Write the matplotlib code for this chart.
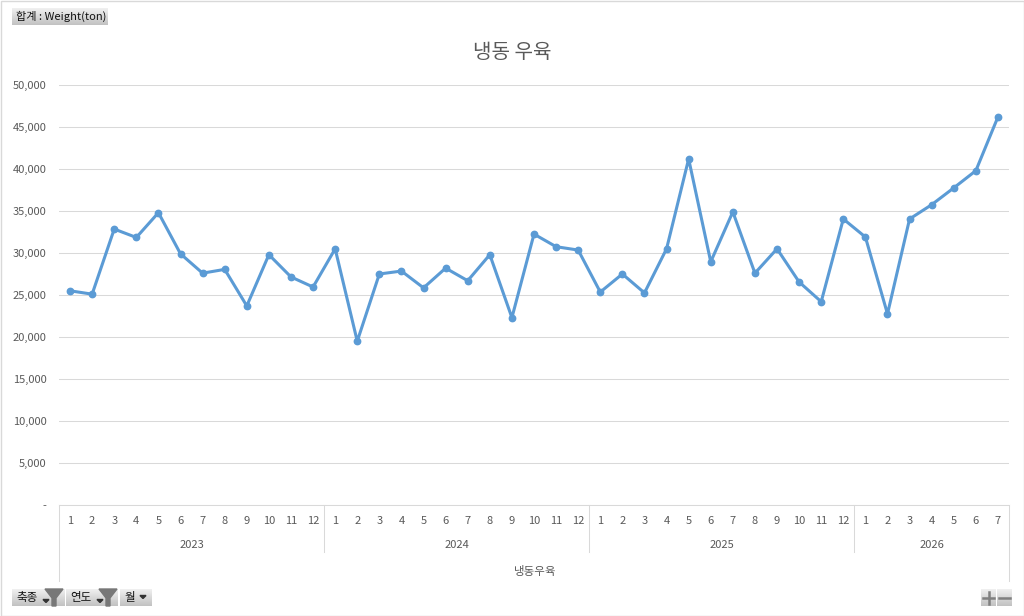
import numpy as np
import matplotlib
matplotlib.use('Agg')
import matplotlib.pyplot as plt
from matplotlib.patches import Polygon, Rectangle

plt.rcParams['font.family'] = ['Noto Sans CJK KR', 'DejaVu Sans']

# Chart data
years = ['2023', '2024', '2025', '2026']
months_per_year = [12, 12, 12, 7]
weight = [25500, 25100, 32850, 31850, 34800, 29900, 27600, 28050, 23700, 29800, 27150, 25950,
          30500, 19500, 27500, 27850, 25850, 28200, 26700, 29800, 22300, 32250, 30750, 30350,
          25350, 27500, 25250, 30500, 41200, 28950, 34900, 27600, 30500, 26550, 24200, 34050,
          31900, 22750, 34050, 35750, 37750, 39800, 46200]
y_ticks = [0, 5000, 10000, 15000, 20000, 25000, 30000, 35000, 40000, 45000, 50000]
title = '냉동 우육'
category = '냉동우육'

W, H = 1024, 616
GREY = '#595959'
LINE = '#d9d9d9'
BLUE = '#5b9bd5'

fig = plt.figure(figsize=(W / 100, H / 100), dpi=100, facecolor='white')

# main axes, placed by pixel position
left, right, top, bottom = 59, 1009, 85, 505
ax = fig.add_axes([left / W, 1 - bottom / H, (right - left) / W, (bottom - top) / H])

x = np.arange(len(weight))
ax.plot(x, weight, color=BLUE, lw=2.2, marker='o', ms=4.6, solid_joinstyle='round', clip_on=False, zorder=3)
ax.set_xlim(-0.5, len(weight) - 0.5)
ax.set_ylim(0, 50000)
ax.set_yticks(y_ticks)
ax.set_yticklabels(['-' if v == 0 else f'{v:,}' for v in y_ticks], fontsize=8, color=GREY)
ax.yaxis.grid(True, color=LINE, lw=0.75)
ax.set_axisbelow(True)
ax.tick_params(axis='y', length=0, pad=9)
ax.set_xticks([])
for s in ['top', 'right', 'left', 'bottom']:
    ax.spines[s].set_visible(False)

# multi-level category axis below the plot
trans = ax.get_xaxis_transform()
px = 1 / (bottom - top)
ax.plot([-0.5, len(weight) - 0.5], [0, 0], color=LINE, lw=0.75, transform=trans, clip_on=False)
start = 0
for i, (year, n) in enumerate(zip(years, months_per_year)):
    for m in range(n):
        ax.text(start + m, -16 * px, str(m + 1), transform=trans,
                ha='center', va='center', fontsize=8, color=GREY)
    ax.text(start + (n - 1) / 2, -39.5 * px, year, transform=trans,
            ha='center', va='center', fontsize=8, color=GREY)
    if i > 0:
        ax.plot([start - 0.5] * 2, [0, -47 * px], color=LINE, lw=0.75, transform=trans, clip_on=False)
    start += n
for edge in [-0.5, len(weight) - 0.5]:
    ax.plot([edge, edge], [0, -76 * px], color=LINE, lw=0.75, transform=trans, clip_on=False)
ax.text((len(weight) - 1) / 2 + 0.05, -66 * px, category, transform=trans,
        ha='center', va='center', fontsize=8.3, color=GREY)

fig.text(512 / W, 1 - 52.5 / H, title, ha='center', va='center', fontsize=14.5, color=GREY)

# overlay in pixel coordinates for the pivot buttons and chart border
ov = fig.add_axes([0, 0, 1, 1], zorder=5)
ov.axis('off')
ov.patch.set_alpha(0)
ov.add_patch(Rectangle((0.5, 0.5), W - 1, H - 1, fill=False, ec=LINE, lw=1))

grad = np.linspace(0.94, 0.76, 32).reshape(-1, 1)


def button(x0, y0, w, h, label=None, tx=None, size=8.3):
    ov.imshow(grad, extent=[x0, x0 + w, y0 + h, y0], cmap='gray', vmin=0, vmax=1, aspect='auto', zorder=1)
    if label:
        ov.text(tx, y0 + h / 2, label, ha='left', va='center', fontsize=size, color='#111111', zorder=3)


def arrow(cx, cy):
    ov.add_patch(Polygon([(cx - 3, cy - 1.5), (cx + 3, cy - 1.5), (cx, cy + 1.5)], color='#333333', zorder=3))


def funnel(cx):
    ov.add_patch(Polygon([(cx - 9, 589), (cx + 9, 589), (cx + 2, 598), (cx + 2, 606), (cx - 2, 606), (cx - 2, 598)],
                         color='#777777', zorder=2))


button(12, 8, 96, 17, '합계 : Weight(ton)', 16, size=8)
button(12, 589, 53, 17, '축종', 16)
funnel(54)
arrow(46, 601)
button(66, 589, 52, 17, '연도', 70)
funnel(108)
arrow(100, 601)
button(120, 589, 32, 17, '월', 124)
arrow(143, 597)

button(981, 589, 15, 17)
button(997, 589, 15, 17)
ov.plot([983, 994], [598, 598], color='#808080', lw=1.8, zorder=3)
ov.plot([988.5, 988.5], [592, 604], color='#808080', lw=1.8, zorder=3)
ov.plot([999, 1010], [598, 598], color='#808080', lw=1.8, zorder=3)
ov.set_xlim(0, W)
ov.set_ylim(H, 0)

fig.savefig('out.png', dpi=100)
